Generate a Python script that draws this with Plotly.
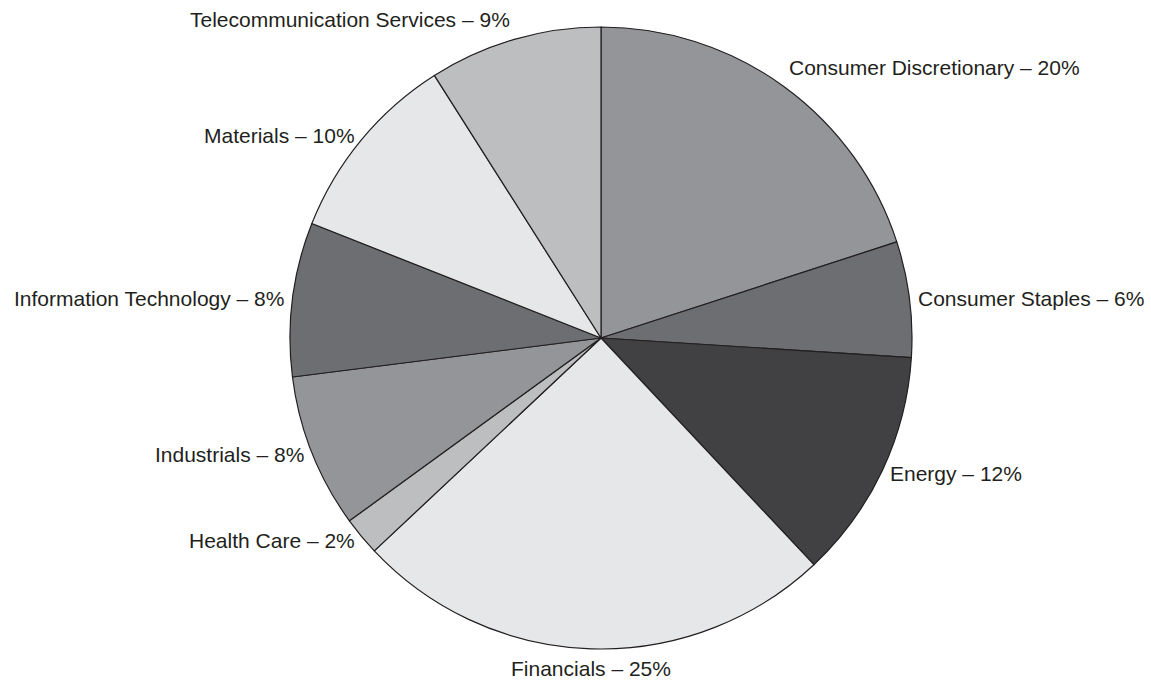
import math
import plotly.graph_objects as go

sectors = ["Consumer Discretionary", "Consumer Staples", "Energy", "Financials",
           "Health Care", "Industrials", "Information Technology", "Materials",
           "Telecommunication Services"]
shares = [20, 6, 12, 25, 2, 8, 8, 10, 9]
colors = ["#939598", "#6d6e71", "#414042", "#e6e7e8", "#bcbec0",
          "#939598", "#6d6e71", "#e6e7e8", "#bcbec0"]

W, H = 1151, 681
cx, cy, R = 601, 338, 311  # pie center/radius in pixels (from top)

fig = go.Figure(go.Pie(
    labels=sectors, values=shares, sort=False, direction="clockwise", rotation=0,
    marker=dict(colors=colors, line=dict(color="#231f20", width=1.2)),
    textinfo="none", hoverinfo="label+percent", showlegend=False,
    domain=dict(x=[(cx - R) / W, (cx + R) / W],
                y=[(H - cy - R) / H, (H - cy + R) / H]),
))

total = sum(shares)
cum = 0
annotations = []
for name, v in zip(sectors, shares):
    mid = (cum + v / 2) / total * 2 * math.pi
    cum += v
    s, c = math.sin(mid), math.cos(mid)
    rr = R * 1.02
    px = cx + rr * s
    py = cy - rr * c
    if s > 0.15:
        xa = "left"
    elif s < -0.15:
        xa = "right"
    else:
        xa = "center"
    if c > 0.7:
        ya = "bottom"
    elif c < -0.7:
        ya = "top"
    else:
        ya = "middle"
    annotations.append(dict(
        x=px / W, y=1 - py / H, xref="paper", yref="paper",
        text=f"{name} – {v}%", showarrow=False, xanchor=xa, yanchor=ya,
        font=dict(family="Liberation Sans, Arial, sans-serif", size=21, color="#231f20"),
    ))

fig.update_layout(
    width=W, height=H, margin=dict(l=0, r=0, t=0, b=0),
    paper_bgcolor="white", plot_bgcolor="white",
    annotations=annotations,
)
fig.write_html("out.html")
